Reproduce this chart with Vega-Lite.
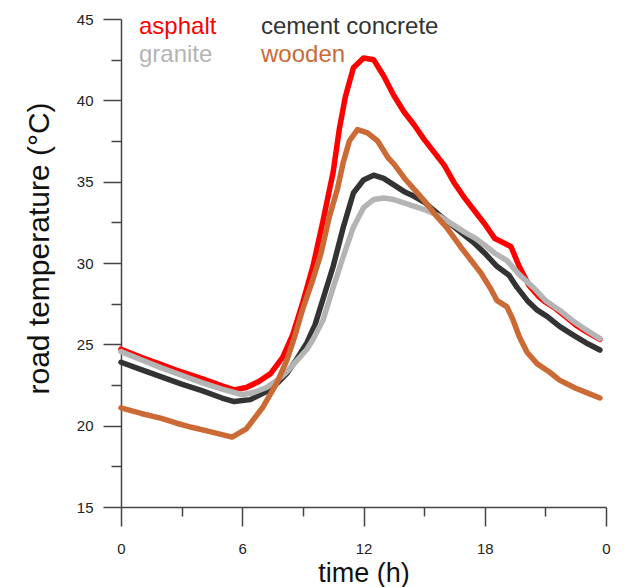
{
  "$schema": "https://vega.github.io/schema/vega-lite/v6.json",
  "autosize": {"type": "none"},
  "width": 485,
  "height": 488,
  "padding": {"left": 121, "top": 19, "right": 25, "bottom": 80},
  "background": "white",
  "config": {
    "font": "Liberation Sans",
    "view": {"stroke": null},
    "axis": {"grid": false, "domainColor": "#444444", "tickColor": "#444444", "domainWidth": 1.5, "tickWidth": 1.5, "labelColor": "#222222", "labelFont": "Liberation Sans", "labelFontSize": 15, "titleFont": "Liberation Sans", "titleFontWeight": "normal", "titleColor": "#111111"}
  },
  "datasets": {
    "temps": [
      {"h": 0, "v": 24.7, "s": "asphalt"}, {"h": 1, "v": 24.2, "s": "asphalt"}, {"h": 2, "v": 23.75, "s": "asphalt"}, {"h": 3, "v": 23.3, "s": "asphalt"}, {"h": 4, "v": 22.9, "s": "asphalt"}, {"h": 5, "v": 22.45, "s": "asphalt"}, {"h": 5.6, "v": 22.2, "s": "asphalt"}, {"h": 6.2, "v": 22.35, "s": "asphalt"}, {"h": 6.8, "v": 22.7, "s": "asphalt"}, {"h": 7.4, "v": 23.2, "s": "asphalt"}, {"h": 8.0, "v": 24.2, "s": "asphalt"}, {"h": 8.5, "v": 25.6, "s": "asphalt"}, {"h": 9.0, "v": 27.6, "s": "asphalt"}, {"h": 9.5, "v": 29.8, "s": "asphalt"}, {"h": 10.0, "v": 32.6, "s": "asphalt"}, {"h": 10.5, "v": 35.6, "s": "asphalt"}, {"h": 10.8, "v": 38.2, "s": "asphalt"}, {"h": 11.1, "v": 40.2, "s": "asphalt"}, {"h": 11.5, "v": 42.0, "s": "asphalt"}, {"h": 12.0, "v": 42.6, "s": "asphalt"}, {"h": 12.5, "v": 42.5, "s": "asphalt"}, {"h": 13.0, "v": 41.5, "s": "asphalt"}, {"h": 13.5, "v": 40.3, "s": "asphalt"}, {"h": 14.0, "v": 39.3, "s": "asphalt"}, {"h": 14.5, "v": 38.5, "s": "asphalt"}, {"h": 15.0, "v": 37.6, "s": "asphalt"}, {"h": 15.5, "v": 36.8, "s": "asphalt"}, {"h": 16.0, "v": 36.0, "s": "asphalt"}, {"h": 16.5, "v": 34.9, "s": "asphalt"}, {"h": 17.0, "v": 34.0, "s": "asphalt"}, {"h": 17.5, "v": 33.2, "s": "asphalt"}, {"h": 18.0, "v": 32.4, "s": "asphalt"}, {"h": 18.5, "v": 31.5, "s": "asphalt"}, {"h": 19.0, "v": 31.2, "s": "asphalt"}, {"h": 19.3, "v": 31.0, "s": "asphalt"}, {"h": 19.7, "v": 29.8, "s": "asphalt"}, {"h": 20.2, "v": 28.6, "s": "asphalt"}, {"h": 20.7, "v": 27.9, "s": "asphalt"}, {"h": 21.0, "v": 27.6, "s": "asphalt"}, {"h": 21.5, "v": 27.2, "s": "asphalt"}, {"h": 22.0, "v": 26.7, "s": "asphalt"}, {"h": 22.5, "v": 26.2, "s": "asphalt"}, {"h": 23.0, "v": 25.8, "s": "asphalt"}, {"h": 23.7, "v": 25.3, "s": "asphalt"},
      {"h": 0, "v": 23.9, "s": "cement concrete"}, {"h": 1, "v": 23.45, "s": "cement concrete"}, {"h": 2, "v": 23.0, "s": "cement concrete"}, {"h": 3, "v": 22.55, "s": "cement concrete"}, {"h": 4, "v": 22.15, "s": "cement concrete"}, {"h": 5, "v": 21.7, "s": "cement concrete"}, {"h": 5.6, "v": 21.48, "s": "cement concrete"}, {"h": 6.4, "v": 21.6, "s": "cement concrete"}, {"h": 7.2, "v": 22.1, "s": "cement concrete"}, {"h": 7.8, "v": 22.7, "s": "cement concrete"}, {"h": 8.2, "v": 23.2, "s": "cement concrete"}, {"h": 8.7, "v": 24.1, "s": "cement concrete"}, {"h": 9.2, "v": 25.1, "s": "cement concrete"}, {"h": 9.6, "v": 26.2, "s": "cement concrete"}, {"h": 10.0, "v": 27.8, "s": "cement concrete"}, {"h": 10.5, "v": 29.8, "s": "cement concrete"}, {"h": 11.0, "v": 32.2, "s": "cement concrete"}, {"h": 11.5, "v": 34.3, "s": "cement concrete"}, {"h": 12.0, "v": 35.1, "s": "cement concrete"}, {"h": 12.5, "v": 35.4, "s": "cement concrete"}, {"h": 13.0, "v": 35.2, "s": "cement concrete"}, {"h": 13.5, "v": 34.8, "s": "cement concrete"}, {"h": 14.0, "v": 34.4, "s": "cement concrete"}, {"h": 14.5, "v": 34.1, "s": "cement concrete"}, {"h": 15.0, "v": 33.75, "s": "cement concrete"}, {"h": 15.7, "v": 33.0, "s": "cement concrete"}, {"h": 16.3, "v": 32.4, "s": "cement concrete"}, {"h": 17.0, "v": 31.7, "s": "cement concrete"}, {"h": 17.5, "v": 31.2, "s": "cement concrete"}, {"h": 18.0, "v": 30.6, "s": "cement concrete"}, {"h": 18.6, "v": 29.8, "s": "cement concrete"}, {"h": 19.2, "v": 29.25, "s": "cement concrete"}, {"h": 19.6, "v": 28.5, "s": "cement concrete"}, {"h": 20.1, "v": 27.7, "s": "cement concrete"}, {"h": 20.6, "v": 27.1, "s": "cement concrete"}, {"h": 21.1, "v": 26.7, "s": "cement concrete"}, {"h": 21.7, "v": 26.1, "s": "cement concrete"}, {"h": 22.4, "v": 25.55, "s": "cement concrete"}, {"h": 23.0, "v": 25.1, "s": "cement concrete"}, {"h": 23.7, "v": 24.65, "s": "cement concrete"},
      {"h": 0, "v": 24.55, "s": "granite"}, {"h": 1, "v": 24.05, "s": "granite"}, {"h": 2, "v": 23.55, "s": "granite"}, {"h": 3, "v": 23.1, "s": "granite"}, {"h": 4, "v": 22.65, "s": "granite"}, {"h": 5, "v": 22.25, "s": "granite"}, {"h": 6.0, "v": 21.9, "s": "granite"}, {"h": 6.6, "v": 22.05, "s": "granite"}, {"h": 7.2, "v": 22.35, "s": "granite"}, {"h": 7.8, "v": 22.85, "s": "granite"}, {"h": 8.2, "v": 23.3, "s": "granite"}, {"h": 8.7, "v": 24.0, "s": "granite"}, {"h": 9.2, "v": 24.7, "s": "granite"}, {"h": 9.5, "v": 25.3, "s": "granite"}, {"h": 10.0, "v": 26.5, "s": "granite"}, {"h": 10.5, "v": 28.5, "s": "granite"}, {"h": 11.0, "v": 30.4, "s": "granite"}, {"h": 11.5, "v": 32.2, "s": "granite"}, {"h": 12.0, "v": 33.4, "s": "granite"}, {"h": 12.5, "v": 33.9, "s": "granite"}, {"h": 13.0, "v": 34.0, "s": "granite"}, {"h": 13.5, "v": 33.9, "s": "granite"}, {"h": 14.0, "v": 33.7, "s": "granite"}, {"h": 14.6, "v": 33.45, "s": "granite"}, {"h": 15.2, "v": 33.2, "s": "granite"}, {"h": 15.8, "v": 32.85, "s": "granite"}, {"h": 16.5, "v": 32.3, "s": "granite"}, {"h": 17.0, "v": 31.9, "s": "granite"}, {"h": 17.5, "v": 31.55, "s": "granite"}, {"h": 18.0, "v": 31.1, "s": "granite"}, {"h": 18.5, "v": 30.6, "s": "granite"}, {"h": 19.1, "v": 30.15, "s": "granite"}, {"h": 19.7, "v": 29.3, "s": "granite"}, {"h": 20.4, "v": 28.5, "s": "granite"}, {"h": 21.0, "v": 27.7, "s": "granite"}, {"h": 21.7, "v": 27.1, "s": "granite"}, {"h": 22.3, "v": 26.5, "s": "granite"}, {"h": 23.0, "v": 25.9, "s": "granite"}, {"h": 23.7, "v": 25.35, "s": "granite"},
      {"h": 0, "v": 21.1, "s": "wooden"}, {"h": 1, "v": 20.75, "s": "wooden"}, {"h": 2, "v": 20.45, "s": "wooden"}, {"h": 2.75, "v": 20.15, "s": "wooden"}, {"h": 3.5, "v": 19.9, "s": "wooden"}, {"h": 4.5, "v": 19.6, "s": "wooden"}, {"h": 5.5, "v": 19.3, "s": "wooden"}, {"h": 6.2, "v": 19.8, "s": "wooden"}, {"h": 7.0, "v": 21.1, "s": "wooden"}, {"h": 7.7, "v": 22.6, "s": "wooden"}, {"h": 8.2, "v": 24.0, "s": "wooden"}, {"h": 8.6, "v": 25.5, "s": "wooden"}, {"h": 9.0, "v": 27.2, "s": "wooden"}, {"h": 9.5, "v": 29.0, "s": "wooden"}, {"h": 9.9, "v": 30.6, "s": "wooden"}, {"h": 10.3, "v": 32.8, "s": "wooden"}, {"h": 10.7, "v": 34.5, "s": "wooden"}, {"h": 11.0, "v": 36.2, "s": "wooden"}, {"h": 11.3, "v": 37.5, "s": "wooden"}, {"h": 11.7, "v": 38.2, "s": "wooden"}, {"h": 12.2, "v": 38.0, "s": "wooden"}, {"h": 12.7, "v": 37.5, "s": "wooden"}, {"h": 13.2, "v": 36.5, "s": "wooden"}, {"h": 13.5, "v": 36.1, "s": "wooden"}, {"h": 14.1, "v": 35.1, "s": "wooden"}, {"h": 14.6, "v": 34.4, "s": "wooden"}, {"h": 15.1, "v": 33.7, "s": "wooden"}, {"h": 15.6, "v": 32.9, "s": "wooden"}, {"h": 16.1, "v": 32.2, "s": "wooden"}, {"h": 16.8, "v": 31.0, "s": "wooden"}, {"h": 17.3, "v": 30.2, "s": "wooden"}, {"h": 17.8, "v": 29.4, "s": "wooden"}, {"h": 18.3, "v": 28.4, "s": "wooden"}, {"h": 18.6, "v": 27.7, "s": "wooden"}, {"h": 19.1, "v": 27.3, "s": "wooden"}, {"h": 19.4, "v": 26.5, "s": "wooden"}, {"h": 19.7, "v": 25.5, "s": "wooden"}, {"h": 20.1, "v": 24.5, "s": "wooden"}, {"h": 20.6, "v": 23.8, "s": "wooden"}, {"h": 21.2, "v": 23.3, "s": "wooden"}, {"h": 21.7, "v": 22.8, "s": "wooden"}, {"h": 22.5, "v": 22.3, "s": "wooden"}, {"h": 23.1, "v": 22.0, "s": "wooden"}, {"h": 23.7, "v": 21.7, "s": "wooden"}
    ]
  },
  "data": {"name": "temps"},
  "mark": {"type": "line", "strokeWidth": 5.5, "strokeJoin": "round", "strokeCap": "round"},
  "encoding": {
    "x": {
      "field": "h", "type": "quantitative",
      "scale": {"domain": [0, 24], "nice": false, "zero": false},
      "axis": {
        "title": "time (h)", "titleFontSize": 27, "titlePadding": 4,
        "values": [0, 3, 6, 9, 12, 15, 18, 21, 24],
        "labelExpr": "datum.value % 6 === 0 ? (datum.value === 24 ? '0' : datum.label) : ''",
        "tickSize": {"condition": {"test": "datum.value % 6 === 0", "value": 19}, "value": 9},
        "labelPadding": 15, "labelFlush": false
      }
    },
    "y": {
      "field": "v", "type": "quantitative",
      "scale": {"domain": [15, 45], "nice": false, "zero": false},
      "axis": {
        "title": "road temperature (°C)", "titleFontSize": 30, "titlePadding": 22, "titleY": 229,
        "values": [15, 17.5, 20, 22.5, 25, 27.5, 30, 32.5, 35, 37.5, 40, 42.5, 45],
        "labelExpr": "datum.value % 5 === 0 ? datum.label : ''",
        "tickSize": {"condition": {"test": "datum.value % 5 === 0", "value": 18}, "value": 10},
        "labelPadding": 10, "labelFlush": false
      }
    },
    "color": {
      "field": "s", "type": "nominal",
      "scale": {"domain": ["asphalt", "cement concrete", "granite", "wooden"], "range": ["#ff0000", "#333333", "#b4b4b4", "#cc6a35"]},
      "legend": {
        "title": null, "orient": "none", "legendX": -6, "legendY": -4, "direction": "horizontal",
        "columns": 2, "columnPadding": 20, "rowPadding": 4,
        "symbolOpacity": 0, "symbolSize": 0, "symbolStrokeWidth": 0, "labelOffset": 0,
        "labelFontSize": 24, "labelFont": "Liberation Sans", "labelLimit": 400,
        "labelColor": {"expr": "scale('color', datum.value)"}
      }
    }
  }
}
